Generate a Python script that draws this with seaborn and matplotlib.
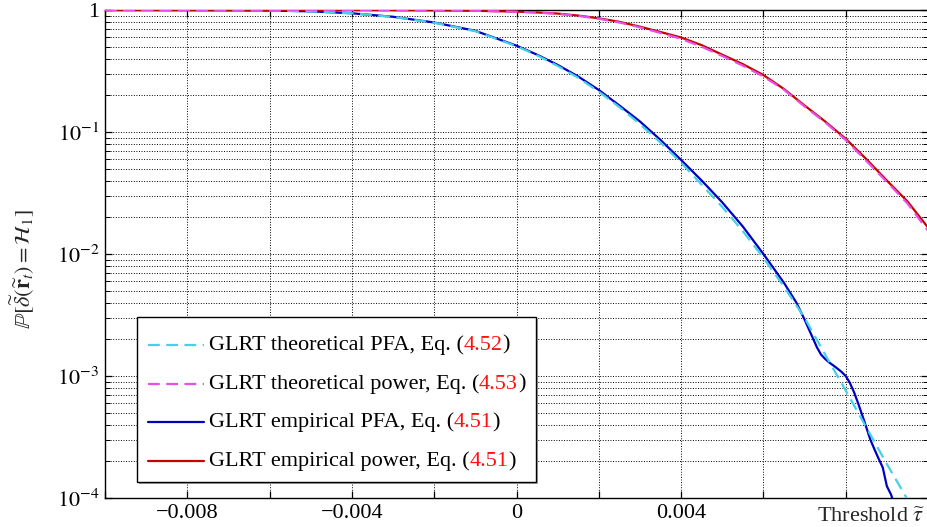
import numpy as np
import matplotlib
matplotlib.use("Agg")
import matplotlib.pyplot as plt
import seaborn as sns
from matplotlib.lines import Line2D
from matplotlib import patheffects
from matplotlib.offsetbox import AnchoredOffsetbox, DrawingArea, HPacker, VPacker, TextArea
from matplotlib.ticker import FixedLocator, FixedFormatter, NullFormatter, NullLocator

# Values (threshold tau vs probability)
tau_pow = [-0.010, -0.008, -0.006, -0.004, -0.003, -0.002, -0.001, 0.0,
           0.0005, 0.001, 0.0015, 0.002, 0.0025, 0.003, 0.0035, 0.004,
           0.0045, 0.005, 0.0055, 0.006, 0.0065, 0.007, 0.0075, 0.008,
           0.0085, 0.009, 0.0095, 0.010]
pow_emp = [1.0, 1.0, 1.0, 0.999, 0.997, 0.993, 0.985, 0.97,
           0.955, 0.935, 0.90, 0.855, 0.80, 0.73, 0.66, 0.595,
           0.515, 0.43, 0.36, 0.293, 0.225, 0.165, 0.122, 0.088,
           0.060, 0.040, 0.027, 0.0165]
pow_theo = [1.0, 1.0, 1.0, 0.999, 0.997, 0.993, 0.985, 0.968,
            0.952, 0.93, 0.895, 0.848, 0.79, 0.72, 0.648, 0.58,
            0.50, 0.42, 0.35, 0.285, 0.222, 0.162, 0.12, 0.086,
            0.058, 0.039, 0.026, 0.0155]

tau_pfa_emp = [-0.010, -0.008, -0.006, -0.005, -0.004, -0.003, -0.002, -0.001, 0.0,
               0.0005, 0.001, 0.0015, 0.002, 0.0025, 0.003, 0.0035, 0.004,
               0.0045, 0.005, 0.0055, 0.006, 0.0065, 0.0068, 0.007, 0.0072,
               0.0073, 0.0074, 0.0075, 0.0076, 0.0077, 0.0078, 0.0079, 0.008,
               0.0081, 0.0082, 0.0083, 0.0084, 0.0085, 0.0086, 0.0087, 0.0088,
               0.0089, 0.009, 0.0091, 0.0092]
pfa_emp = [1.0, 0.998, 0.99, 0.975, 0.94, 0.88, 0.79, 0.675, 0.51,
           0.43, 0.355, 0.285, 0.221, 0.165, 0.122, 0.086, 0.059,
           0.040, 0.0265, 0.0168, 0.0100, 0.0058, 0.0040, 0.0029, 0.00205,
           0.00172, 0.00150, 0.00138, 0.00129, 0.00122, 0.00115, 0.00108, 0.00100,
           0.00088, 0.00074, 0.00060, 0.00048, 0.00038, 0.00030, 0.00025, 0.00021,
           0.000178, 0.000125, 0.000107, 0.000085]

tau_pfa_theo = [-0.010, -0.008, -0.006, -0.005, -0.004, -0.003, -0.002, -0.001, 0.0,
                0.0005, 0.001, 0.0015, 0.002, 0.0025, 0.003, 0.0035, 0.004,
                0.0045, 0.005, 0.0055, 0.006, 0.0065, 0.007, 0.0075, 0.008,
                0.0085, 0.009, 0.0095]
pfa_theo = [1.0, 0.998, 0.99, 0.975, 0.94, 0.878, 0.787, 0.67, 0.505,
            0.425, 0.348, 0.278, 0.214, 0.160, 0.116, 0.082, 0.056,
            0.037, 0.0243, 0.0154, 0.0093, 0.0054, 0.0030, 0.00150, 0.00076,
            0.00038, 0.00019, 0.0000975]

x_ticks = [-0.010, -0.008, -0.006, -0.004, -0.002, 0.0, 0.002, 0.004, 0.006, 0.008, 0.010]
x_tick_labels = ['', '\u22120.008', '', '\u22120.004', '', '0', '', '0.004', '', '', '']
y_ticks = [1e-4, 1e-3, 1e-2, 1e-1, 1.0]
y_tick_labels = ['$10^{-4}$', '$10^{-3}$', '$10^{-2}$', '$10^{-1}$', '1']

legend_labels = ['GLRT theoretical PFA', 'GLRT theoretical power',
                 'GLRT empirical PFA', 'GLRT empirical power']
legend_eqs = ['4.52', '4.53', '4.51', '4.51']

c_pfa_theo = '#45d2e6'
c_pow_theo = '#e84ee8'
c_pfa_emp = '#0000c4'
c_pow_emp = '#c80000'
dash = (0, (5.3, 2.9))

sns.set_style("ticks")
plt.rcParams['font.family'] = ['Liberation Serif', 'DejaVu Serif']
plt.rcParams['mathtext.fontset'] = 'stix'
fs = 16

fig = plt.figure(figsize=(9.27, 5.27), dpi=100)
ax = fig.add_axes([105 / 927, 29 / 527, 823 / 927, 488 / 527])

sns.lineplot(x=tau_pfa_emp, y=pfa_emp, ax=ax, color=c_pfa_emp, lw=1.6,
             estimator=None, sort=False, zorder=3)
sns.lineplot(x=tau_pow, y=pow_emp, ax=ax, color=c_pow_emp, lw=1.6,
             estimator=None, sort=False, zorder=3)
sns.lineplot(x=tau_pfa_theo, y=pfa_theo, ax=ax, color=c_pfa_theo, lw=1.6,
             linestyle=dash, estimator=None, sort=False, zorder=4)
sns.lineplot(x=tau_pow, y=pow_theo, ax=ax, color=c_pow_theo, lw=1.6,
             linestyle=dash, estimator=None, sort=False, zorder=4)

ax.set_yscale('log')
ax.set_xlim(-0.010, 0.010)
ax.set_ylim(1e-4, 1.0)

ax.xaxis.set_major_locator(FixedLocator(x_ticks))
ax.xaxis.set_major_formatter(FixedFormatter(x_tick_labels))
ax.xaxis.set_minor_locator(NullLocator())
ax.yaxis.set_major_locator(FixedLocator(y_ticks))
ax.yaxis.set_major_formatter(FixedFormatter(y_tick_labels))
ax.yaxis.set_minor_formatter(NullFormatter())

ax.tick_params(which='both', direction='in', top=True, right=True,
               colors='black', labelsize=fs)
ax.tick_params(which='major', length=5, width=0.9, pad=4)
ax.tick_params(which='minor', length=3.5, width=0.7)
ax.grid(which='major', axis='both', color='black', linestyle=':', linewidth=0.7)
ax.grid(which='minor', axis='y', color='black', linestyle=':', linewidth=0.7)
for s in ax.spines.values():
    s.set_color('black')
    s.set_linewidth(1.0)

ax.set_ylabel(r'$\mathbb{P}[\widetilde{\delta}(\widetilde{\mathbf{r}}_t) = \mathcal{H}_1]$',
              fontsize=fs)
ax.yaxis.set_label_coords(-0.083, 0.47)
ax.set_xlabel(r'Threshold $\widetilde{\tau}$', fontsize=fs, ha='right', va='center')
ax.xaxis.set_label_coords(0.9965, -0.040)

# legend with coloured equation numbers
styles = [(c_pfa_theo, dash), (c_pow_theo, dash), (c_pfa_emp, '-'), (c_pow_emp, '-')]
rows = []
for (col, ls), lab, eq in zip(styles, legend_labels, legend_eqs):
    da = DrawingArea(40, 10, 0, 0)
    da.add_artist(Line2D([0, 40], [5, 5], color=col, lw=1.6, linestyle=ls))
    tp = dict(fontsize=fs, color='black')
    txt = HPacker(children=[TextArea(lab + ', Eq. (', textprops=tp),
                            TextArea(eq, textprops=dict(fontsize=fs, color='#ff1010')),
                            TextArea(')', textprops=tp)],
                  align='baseline', pad=0, sep=0)
    rows.append(HPacker(children=[da, txt], align='center', pad=0, sep=3.5))
rows_box = VPacker(children=rows, align='left', pad=0, sep=13.7)
col_box = VPacker(children=[DrawingArea(1, 5, 0, 0), rows_box], align='left', pad=0, sep=0)
box = AnchoredOffsetbox(loc='upper left', child=col_box, pad=0.5, borderpad=0,
                        frameon=True, bbox_to_anchor=(0.0389, 0.371),
                        bbox_transform=ax.transAxes, prop=dict(size=fs))
box.patch.set_edgecolor('black')
box.patch.set_linewidth(1.0)
box.patch.set_facecolor('white')
box.patch.set_path_effects([patheffects.SimplePatchShadow(offset=(1.5, -1.5),
                                                          shadow_rgbFace='0.65', alpha=1.0),
                            patheffects.Normal()])
box.set_zorder(6)
ax.add_artist(box)

fig.savefig('out.png', dpi=100)
